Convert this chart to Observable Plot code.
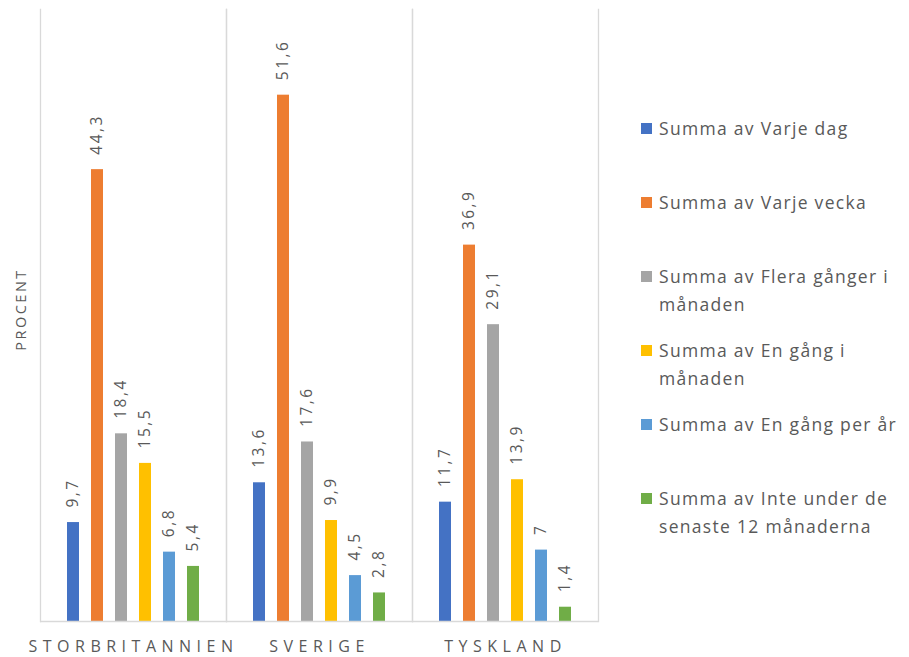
<!DOCTYPE html>
<html>
<head>
<meta charset="utf-8">
<script src="https://cdn.jsdelivr.net/npm/d3@7"></script>
<script src="https://cdn.jsdelivr.net/npm/@observablehq/plot@0.6"></script>
<style>
  html, body { margin: 0; padding: 0; background: #fff; }
  #wrap { position: relative; width: 909px; height: 657px; font-family: "Open Sans", sans-serif; color: #595959; }
  #chart svg { display: block; }
  g[aria-label="fx-axis tick label"] text { letter-spacing: 5.5px; }
  #legend { position: absolute; left: 641px; top: 114px; width: 268px; }
  .item { height: 74px; display: flex; align-items: flex-start; }
  .sw { flex: 0 0 auto; width: 11px; height: 11px; margin-top: 9px; margin-right: 7px; }
  .lab { font-size: 17.5px; letter-spacing: 1.3px; line-height: 28px; width: 252px; }
</style>
</head>
<body>
<div id="wrap"><div id="chart"></div><div id="legend"></div></div>
<script>
const groups = ["STORBRITANNIEN", "SVERIGE", "TYSKLAND"];
const series = [
  "Summa av Varje dag",
  "Summa av Varje vecka",
  "Summa av Flera gånger i månaden",
  "Summa av En gång i månaden",
  "Summa av En gång per år",
  "Summa av Inte under de senaste 12 månaderna"
];
const colors = ["#4472C4", "#ED7D31", "#A5A5A5", "#FFC000", "#5B9BD5", "#70AD47"];
const storbritannien = [9.7, 44.3, 18.4, 15.5, 6.8, 5.4];
const sverige = [13.6, 51.6, 17.6, 9.9, 4.5, 2.8];
const tyskland = [11.7, 36.9, 29.1, 13.9, 7, 1.4];
const yLabel = "PROCENT";

const valuesByGroup = [storbritannien, sverige, tyskland];
const rows = [];
groups.forEach((g, gi) => series.forEach((s, si) => rows.push({group: g, series: s, value: valuesByGroup[gi][si]})));
const fmt = v => String(v).replace(".", ",");

const chart = Plot.plot({
  width: 909,
  height: 657,
  marginLeft: 39,
  marginRight: 311,
  marginTop: 9,
  marginBottom: 36,
  style: {fontFamily: "'Open Sans', sans-serif", fontSize: "16px", color: "#595959", background: "white"},
  fx: {domain: groups, padding: 0, label: null, tickSize: 0, tickPadding: 19},
  x: {domain: series, paddingInner: 0.5, paddingOuter: 1.125, axis: null},
  y: {domain: [0, 60], axis: null},
  color: {domain: series, range: colors},
  marks: [
    Plot.frame({anchor: "left", stroke: "#d9d9d9", strokeWidth: 1.3}),
    Plot.frame({anchor: "right", stroke: "#d9d9d9", strokeWidth: 1.3}),
    Plot.barY(rows, {fx: "group", x: "series", y: "value", fill: "series"}),
    Plot.ruleY([0], {stroke: "#d9d9d9", strokeWidth: 1.3}),
    Plot.text(rows, {
      fx: "group", x: "series", y: "value", text: d => fmt(d.value),
      rotate: -90, textAnchor: "start", dy: -15, fontSize: 15.5, fill: "#595959"
    }),
    Plot.text([yLabel], {
      fx: () => groups[0], frameAnchor: "left", text: d => d, rotate: -90, textAnchor: "middle",
      dx: -19, dy: -6, fontSize: 14.5, fill: "#595959"
    })
  ]
});
document.getElementById("chart").appendChild(chart);
chart.querySelectorAll('g[aria-label="text"] text').forEach(t => t.style.letterSpacing = "2.5px");

const legend = document.getElementById("legend");
series.forEach((s, i) => {
  const item = document.createElement("div");
  item.className = "item";
  const sw = document.createElement("div");
  sw.className = "sw";
  sw.style.background = colors[i];
  const lab = document.createElement("div");
  lab.className = "lab";
  lab.textContent = s;
  item.appendChild(sw);
  item.appendChild(lab);
  legend.appendChild(item);
});
</script>
</body>
</html>
